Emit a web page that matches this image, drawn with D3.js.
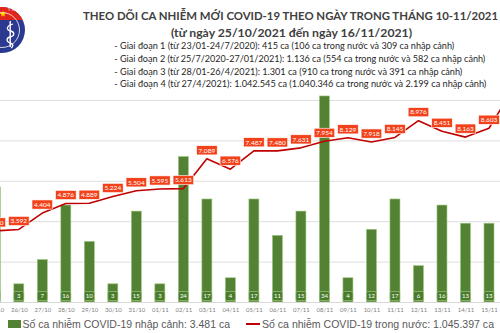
<!DOCTYPE html>
<html><head><meta charset="utf-8">
<script src="https://cdn.jsdelivr.net/npm/d3@7"></script>
<style>body{margin:0;background:#fff;overflow:hidden} svg{display:block}</style>
</head><body>
<svg id="c" width="500" height="333"></svg>
<script>
const categories = ["25/10","26/10","27/10","28/10","29/10","30/10","31/10","01/11","02/11","03/11","04/11","05/11","06/11","07/11","08/11","09/11","10/11","11/11","12/11","13/11","14/11","15/11","16/11"];
const imported = [19,3,7,16,10,3,15,3,24,17,4,17,11,15,34,4,12,17,6,16,13,13,13];
const domestic = [3520,3592,4404,4876,4889,5224,5504,5595,5613,7089,6576,7487,7480,7631,7954,8129,7918,8145,8976,8451,8163,8603,10500];
const lineTicks = [0,2000,4000,6000,8000,10000];
const titleText = "THEO DÕI CA NHIỄM MỚI COVID-19 THEO NGÀY TRONG THÁNG 10-11/2021";
const subtitleText = "(từ ngày 25/10/2021 đến ngày 16/11/2021)";
const phaseLines = [
  "- Giai đoạn 1 (từ 23/01-24/7/2020): 415 ca (106 ca trong nước và 309 ca nhập cảnh)",
  "- Giai đoạn 2 (từ 25/7/2020-27/01/2021): 1.136 ca (554 ca trong nước và 582 ca nhập cảnh)",
  "- Giai đoạn 3 (từ 28/01-26/4/2021): 1.301 ca (910 ca trong nước và 391 ca nhập cảnh)",
  "- Giai đoạn 4 (từ 27/4/2021): 1.042.545 ca (1.040.346 ca trong nước và 2.199 ca nhập cảnh)"
];
const legendLabels = ["Số ca nhiễm COVID-19 nhập cảnh: 3.481 ca","Số ca nhiễm COVID-19 trong nước: 1.045.397 ca"];

const svg = d3.select("#c");
const fmt = v => d3.format(",")(v).replace(/,/g,".");

const x = d3.scalePoint().domain(categories).range([-4.7, 512.5]);
const yLine = d3.scaleLinear().domain([0,10000]).range([302,100]);
const yBar = d3.scaleLinear().domain([0,40]).range([302,59.6]);

// gridlines
const grid = svg.append("g").attr("transform","translate(0,0)")
  .call(d3.axisLeft(yLine).tickValues(lineTicks).tickSize(-520).tickFormat(""));
grid.select(".domain").remove();
grid.selectAll(".tick line").attr("stroke","#dedede").attr("stroke-width",1);

// bars
const barW = 10;
svg.append("g").selectAll("rect").data(imported).join("rect")
  .attr("x",(d,i)=>x(categories[i])-barW/2)
  .attr("y",d=>yBar(d))
  .attr("width",barW)
  .attr("height",d=>yBar(0)-yBar(d))
  .attr("fill","#548235")
  .attr("stroke","#9cc97e").attr("stroke-width",0.6);

// bar labels
const bl = svg.append("g").selectAll("g").data(imported).join("g")
  .attr("transform",(d,i)=>`translate(${x(categories[i])},296)`);
bl.append("rect").attr("x",-5).attr("y",-4.5).attr("width",10).attr("height",9).attr("rx",1.5)
  .attr("fill","#4a7a2c").attr("stroke","#a6d08a").attr("stroke-width",0.6);
bl.append("text").attr("text-anchor","middle").attr("dy","2.2").attr("fill","#fff")
  .attr("font-family","Lato, sans-serif").attr("font-size",6).text(d=>d);

// x axis
const xa = svg.append("g").attr("transform","translate(0,302)")
  .call(d3.axisBottom(x).tickSize(0).tickPadding(6));
xa.select(".domain").attr("stroke","#d9d9d9");
xa.selectAll("text").attr("fill","#7f7f7f").attr("font-family","Lato, sans-serif").attr("font-size",6);

// line
const line = d3.line().x((d,i)=>x(categories[i])).y(d=>yLine(d));
svg.append("path").datum(domestic).attr("d",line).attr("fill","none")
  .attr("stroke","#c00000").attr("stroke-width",1.6).attr("stroke-linejoin","round");

// line labels
const ll = svg.append("g").selectAll("g").data(domestic).join("g")
  .attr("transform",(d,i)=>`translate(${x(categories[i])},${yLine(d)-8.5})`);
ll.append("rect").attr("fill","#f2421b").attr("stroke","#fff").attr("stroke-width",0.6);
ll.append("text").attr("text-anchor","middle").attr("dy","2.3").attr("fill","#fff")
  .attr("font-family","Lato, sans-serif").attr("font-size",6.5).text(d=>fmt(d));
ll.each(function(){
  const g = d3.select(this);
  const w = g.select("text").node().getComputedTextLength()+4;
  g.select("rect").attr("x",-w/2).attr("y",-4.6).attr("width",w).attr("height",9.2);
});

// title
svg.append("text").attr("x",83).attr("y",19.5).attr("fill","#404040")
  .attr("font-family","Lato, sans-serif").attr("font-weight","bold").attr("font-size",11.5)
  .attr("textLength",415).attr("lengthAdjust","spacingAndGlyphs").text(titleText);
svg.append("text").attr("x",171).attr("y",36.5).attr("fill","#404040")
  .attr("font-family","Lato, sans-serif").attr("font-weight","bold").attr("font-size",11.5)
  .attr("textLength",241).attr("lengthAdjust","spacingAndGlyphs").text(subtitleText);
const phaseY = [49,62.3,74.5,86.6];
const phaseLen = [340,371,348,372];
phaseLines.forEach((t,i)=>{
  svg.append("text").attr("x",114.3).attr("y",phaseY[i]).attr("fill","#262626")
    .attr("font-family","Lato, sans-serif").attr("font-size",8.6)
    .attr("textLength",phaseLen[i]).attr("lengthAdjust","spacingAndGlyphs").text(t);
});

// legend
svg.append("rect").attr("x",8).attr("y",320).attr("width",13).attr("height",8).attr("fill","#548235");
svg.append("text").attr("x",22.5).attr("y",327.8).attr("fill","#595959")
  .attr("font-family","Liberation Sans, Arial, sans-serif").attr("font-size",11)
  .attr("textLength",207.5).attr("lengthAdjust","spacingAndGlyphs").text(legendLabels[0]);
svg.append("line").attr("x1",246).attr("x2",260).attr("y1",324).attr("y2",324)
  .attr("stroke","#c00000").attr("stroke-width",2);
svg.append("text").attr("x",262).attr("y",327.8).attr("fill","#595959")
  .attr("font-family","Liberation Sans, Arial, sans-serif").attr("font-size",11)
  .attr("textLength",232).attr("lengthAdjust","spacingAndGlyphs").text(legendLabels[1]);

// logo (partially cropped emblem)
const logo = svg.append("g");
const cp = svg.append("defs").append("clipPath").attr("id","lc");
cp.append("circle").attr("cx",2).attr("cy",30).attr("r",23);
logo.append("circle").attr("cx",2).attr("cy",30).attr("r",23).attr("fill","#2b3990");
logo.append("rect").attr("x",-25).attr("y",0).attr("width",50).attr("height",20)
  .attr("clip-path","url(#lc)").attr("fill","#e1251b");
logo.append("circle").attr("cx",2).attr("cy",30).attr("r",17.5).attr("fill","none")
  .attr("stroke","#fff").attr("stroke-width",0.8);
logo.append("path").attr("d",d3.symbol(d3.symbolStar,14)()).attr("transform","translate(3,14)").attr("fill","#ffde00");
logo.append("rect").attr("x",9.5).attr("y",21).attr("width",1.4).attr("height",26).attr("fill","#fff");
logo.append("path").attr("d","M13,24 C6,26 6,30 10.5,31 C15,32 15,36 10,37 C6,38 6,42 10.5,43 C14,44 13,47 11,48")
  .attr("fill","none").attr("stroke","#fff").attr("stroke-width",1.3);
logo.append("text").attr("x",8).attr("y",11).attr("fill","#fff").attr("font-size",3.5)
  .attr("font-family","Liberation Sans, sans-serif").text("Y TẾ");
</script>
</body></html>
